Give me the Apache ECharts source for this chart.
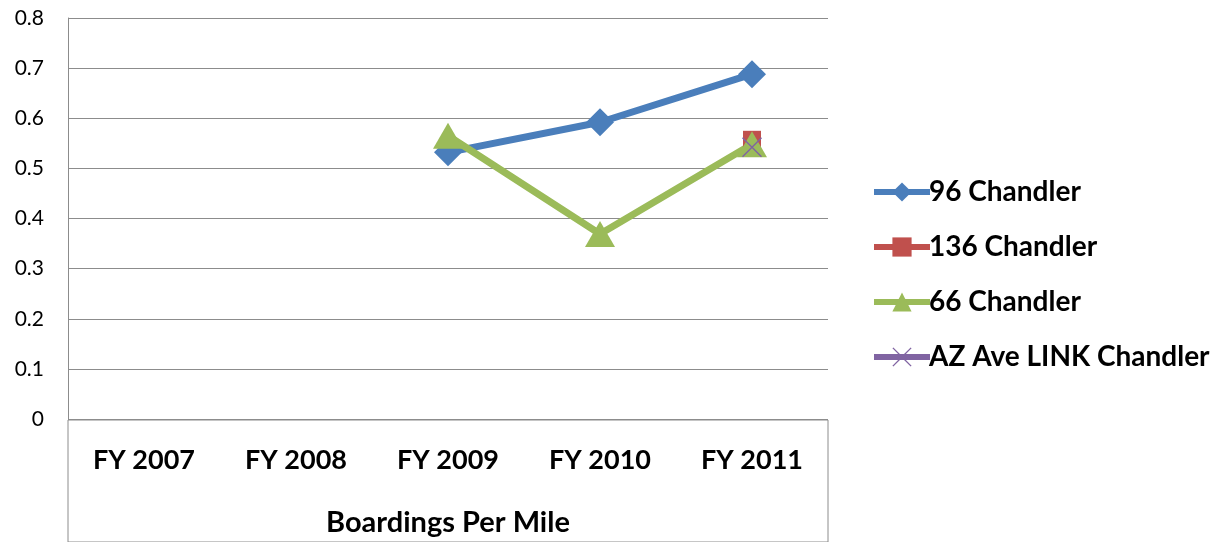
<!DOCTYPE html>
<html><head><meta charset="utf-8">
<script src="https://cdn.jsdelivr.net/npm/echarts@6/dist/echarts.min.js"></script>
<style>html,body{margin:0;padding:0;background:#fff}#c{width:1225px;height:542px}</style>
</head><body><div id="c"></div>
<script>
const categories = ['FY 2007', 'FY 2008', 'FY 2009', 'FY 2010', 'FY 2011'];
const s96 = [null, null, 0.532, 0.592, 0.688];
const s136 = [null, null, null, null, 0.557];
const s66 = [null, null, 0.565, 0.369, 0.548];
const sAZ = [null, null, null, null, 0.542];
const yTicks = { min: 0, max: 0.8, interval: 0.1 };

const FONT = 'Lato';
const crossPath = 'path://M0,1 L1,0 L10,9 L19,0 L20,1 L11,10 L20,19 L19,20 L10,11 L1,20 L0,19 L9,10 Z';

const chart = echarts.init(document.getElementById('c'));
function mk(name, data, color, symbol, size) {
  return {
    name, type: 'line', data, symbol, symbolSize: size,
    showSymbol: true, connectNulls: false,
    lineStyle: { color, width: 7 },
    itemStyle: { color },
    emphasis: { disabled: true },
    z: 3
  };
}
chart.setOption({
  animation: false,
  textStyle: { fontFamily: FONT },
  grid: [
    { left: 68, right: 397, top: 18, bottom: 121, containLabel: false },
    { left: 68, right: 397, top: 420, bottom: -2, show: true, borderColor: '#8c8c8c', borderWidth: 1, backgroundColor: 'transparent' }
  ],
  legend: {
    orient: 'vertical', left: 866, top: 173,
    itemWidth: 56, itemHeight: 24, itemGap: 27,
    lineStyle: { width: 6 },
    textStyle: { fontFamily: FONT, fontWeight: 'bold', fontSize: 28, color: '#000', padding: [0, 0, 0, -6] },
    data: ['96 Chandler', '136 Chandler', '66 Chandler', 'AZ Ave LINK Chandler']
  },
  xAxis: [
    {
      type: 'category', data: categories, gridIndex: 0, boundaryGap: true,
      axisLine: { show: false },
      axisTick: { show: false },
      axisLabel: { fontFamily: FONT, fontWeight: 'bold', fontSize: 27, color: '#000', margin: 28 },
      name: 'Boardings Per Mile', nameLocation: 'middle', nameGap: 89,
      nameTextStyle: { fontFamily: FONT, fontWeight: 'bold', fontSize: 29, color: '#000' }
    },
    { type: 'category', gridIndex: 1, show: false, data: categories }
  ],
  yAxis: [
    {
      type: 'value', gridIndex: 0, min: yTicks.min, max: yTicks.max, interval: yTicks.interval,
      axisLine: { show: true, lineStyle: { color: '#8c8c8c', width: 1 } },
      axisTick: { show: false },
      splitLine: { lineStyle: { color: '#8c8c8c', width: 1 } },
      axisLabel: { fontFamily: FONT, fontSize: 21, color: '#000', margin: 24 }
    },
    { type: 'value', gridIndex: 1, show: false }
  ],
  series: [
    mk('96 Chandler', s96, '#4a7ebb', 'diamond', [28, 28]),
    mk('136 Chandler', s136, '#c0504d', 'rect', [18, 18]),
    mk('66 Chandler', s66, '#9bbb59', 'triangle', [30, 26]),
    mk('AZ Ave LINK Chandler', sAZ, '#8064a2', crossPath, [20, 20])
  ]
});
</script></body></html>
